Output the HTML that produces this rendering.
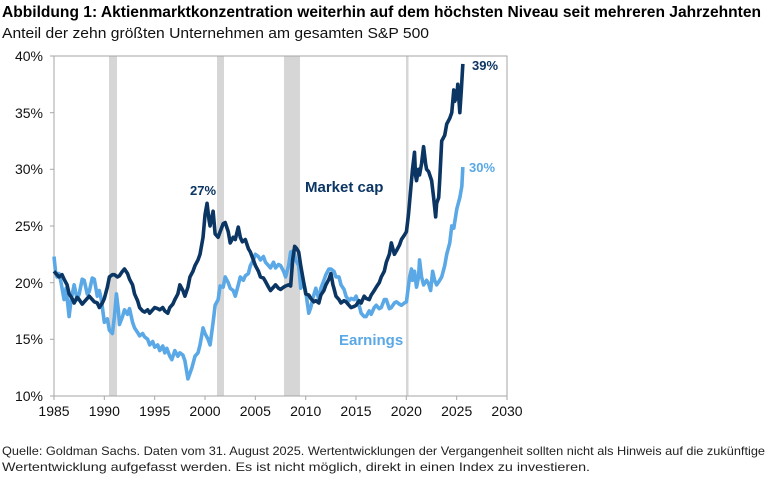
<!DOCTYPE html>
<html><head><meta charset="utf-8"><style>
html,body{margin:0;padding:0;background:#fff;}
svg{display:block;font-family:"Liberation Sans",Arial,sans-serif;}
</style></head><body>
<svg width="768" height="478" viewBox="0 0 768 478" xmlns="http://www.w3.org/2000/svg">
<text x="2" y="17" font-size="16" font-weight="bold" fill="#000" textLength="759" lengthAdjust="spacingAndGlyphs">Abbildung 1: Aktienmarktkonzentration weiterhin auf dem höchsten Niveau seit mehreren Jahrzehnten</text>
<text x="2" y="38" font-size="15" fill="#111" textLength="427" lengthAdjust="spacingAndGlyphs">Anteil der zehn größten Unternehmen am gesamten S&amp;P 500</text>
<g fill="#d6d6d6">
<rect x="109" y="56" width="8" height="340"/>
<rect x="217" y="56" width="7" height="340"/>
<rect x="284" y="56" width="16" height="340"/>
<rect x="406" y="56" width="2.5" height="340"/>
</g>
<rect x="54" y="56" width="453" height="340" fill="none" stroke="#a6a6a6" stroke-width="1"/>
<g stroke="#a6a6a6" stroke-width="1">
<line x1="50" y1="56" x2="54" y2="56"/><line x1="50" y1="112.7" x2="54" y2="112.7"/><line x1="50" y1="169.3" x2="54" y2="169.3"/><line x1="50" y1="226" x2="54" y2="226"/><line x1="50" y1="282.7" x2="54" y2="282.7"/><line x1="50" y1="339.3" x2="54" y2="339.3"/><line x1="50" y1="396" x2="54" y2="396"/>
<line x1="54" y1="396" x2="54" y2="400"/><line x1="104.3" y1="396" x2="104.3" y2="400"/><line x1="154.7" y1="396" x2="154.7" y2="400"/><line x1="205" y1="396" x2="205" y2="400"/><line x1="255.3" y1="396" x2="255.3" y2="400"/><line x1="305.7" y1="396" x2="305.7" y2="400"/><line x1="356" y1="396" x2="356" y2="400"/><line x1="406.3" y1="396" x2="406.3" y2="400"/><line x1="456.7" y1="396" x2="456.7" y2="400"/><line x1="507" y1="396" x2="507" y2="400"/>
</g>
<g font-size="14" fill="#111" text-anchor="end">
<text x="43" y="61">40%</text><text x="43" y="118">35%</text><text x="43" y="174">30%</text><text x="43" y="231">25%</text><text x="43" y="288">20%</text><text x="43" y="344">15%</text><text x="43" y="401">10%</text>
</g>
<g font-size="14" fill="#111" text-anchor="middle">
<text x="54" y="416">1985</text><text x="104.3" y="416">1990</text><text x="154.7" y="416">1995</text><text x="205" y="416">2000</text><text x="255.3" y="416">2005</text><text x="305.7" y="416">2010</text><text x="356" y="416">2015</text><text x="406.3" y="416">2020</text><text x="456.7" y="416">2025</text><text x="507" y="416">2030</text>
</g>
<g transform="translate(-19934.95,509.2) scale(10.07,-11.33)" fill="none" stroke-linejoin="round">
<polyline vector-effect="non-scaling-stroke" stroke="#5aa8e6" stroke-width="3.6" points="1985,22.3 1985.15,21 1985.3,20.5 1985.5,20.8 1985.7,20 1986,18.5 1986.2,19.5 1986.5,17 1986.7,18.5 1987,19.8 1987.3,18.5 1987.5,19 1987.8,20.3 1988,20.2 1988.3,19 1988.5,19.2 1988.8,20.4 1989,20.3 1989.3,18.8 1989.5,19.3 1989.7,18.5 1990,16.5 1990.3,16.8 1990.5,15.8 1990.8,15.5 1991,17 1991.2,19 1991.4,17.5 1991.5,16.3 1991.8,17 1992,17.6 1992.3,17.2 1992.5,17.7 1992.8,16.5 1993,16 1993.3,15.6 1993.5,15.3 1993.8,15.5 1994,15.2 1994.3,15 1994.5,14.5 1994.8,14.8 1995,14.3 1995.3,14.5 1995.5,14.0 1995.8,14.4 1996,13.8 1996.2,14.2 1996.5,13.5 1996.7,13.2 1997,14 1997.3,13.5 1997.5,13.8 1997.8,13.6 1998,13.1 1998.3,11.5 1998.5,12 1998.7,12.5 1999,13.5 1999.3,13.8 1999.5,14.5 1999.8,16 2000,15.5 2000.3,15 2000.5,14.5 2000.8,16.5 2001,18 2001.3,18.5 2001.5,19.7 2001.8,19.6 2002,20.5 2002.3,20 2002.5,19.5 2002.8,19.3 2003,18.8 2003.3,19.8 2003.5,20.5 2003.8,20.2 2004,20.6 2004.3,20.8 2004.5,21.5 2004.8,22 2005,22.5 2005.3,22.3 2005.5,22 2005.8,22.3 2006,21.8 2006.3,21.5 2006.5,21.3 2006.8,21.8 2007,21.3 2007.3,21.6 2007.5,21.5 2007.8,21 2008,20.5 2008.3,21.5 2008.5,22.7 2008.8,22.8 2009,22 2009.3,21.5 2009.5,19.5 2009.8,20 2010,19.2 2010.3,17.3 2010.5,17.8 2010.7,18.6 2011,19.5 2011.3,18.5 2011.5,19.5 2011.8,20.2 2012,20.7 2012.3,21.2 2012.5,21.2 2012.8,21 2013,20.5 2013.3,20.5 2013.5,19.8 2013.8,19.4 2014,18.8 2014.3,18.4 2014.5,18.6 2014.8,18.5 2015,18.8 2015.3,18 2015.5,17.3 2015.8,17 2016,17 2016.3,17.5 2016.5,17.2 2016.8,17.8 2017,18 2017.3,17.7 2017.5,17.8 2017.8,18.5 2018,18.5 2018.3,17.7 2018.5,17.8 2018.8,18.2 2019,18.3 2019.3,18.1 2019.5,18.0 2019.8,18.2 2020,18.3 2020.3,20.4 2020.5,21.2 2020.6,20.2 2020.8,21 2021,19.6 2021.2,20.5 2021.3,22 2021.5,20.5 2021.7,19.8 2022,20.2 2022.2,19.9 2022.4,19.3 2022.6,21 2022.8,20.2 2023,19.8 2023.3,20.2 2023.5,20.5 2023.8,21.5 2024,22.5 2024.3,23.5 2024.5,25 2024.7,24.8 2025,26.5 2025.3,27.5 2025.5,28.5 2025.6,30.2"/>
<polyline vector-effect="non-scaling-stroke" stroke="#0b3563" stroke-width="3.6" points="1985,21 1985.3,20.7 1985.5,20.5 1985.8,20.7 1986,20.3 1986.3,19.8 1986.5,19 1986.8,18.6 1987,18.2 1987.3,18.7 1987.5,18.5 1987.8,18.1 1988,18.3 1988.3,18.6 1988.5,18.8 1988.8,18.5 1989,18.3 1989.3,18.2 1989.5,17.8 1989.8,18.2 1990,18.6 1990.3,19.6 1990.5,20.5 1990.8,20.7 1991,20.7 1991.3,20.5 1991.5,20.6 1991.8,21 1992,21.2 1992.3,20.8 1992.5,20.3 1992.8,19.8 1993,19 1993.3,18.4 1993.5,17.8 1993.8,17.5 1994,17.4 1994.3,17.6 1994.5,17.3 1994.8,17.6 1995,17.8 1995.3,17.7 1995.5,17.6 1995.8,17.8 1996,17.5 1996.3,17.3 1996.5,17.8 1996.8,18.1 1997,18.5 1997.3,19 1997.5,19.8 1997.8,19.3 1998,18.8 1998.3,19.6 1998.5,20.5 1998.8,21 1999,21.5 1999.3,22 1999.5,22.5 1999.8,24 2000,26 2000.2,27 2000.4,25.5 2000.5,25 2000.8,26.3 2001,24.3 2001.3,24 2001.5,24.5 2001.8,25.2 2002,25.3 2002.3,24.5 2002.5,23.5 2002.8,24 2003,23.8 2003.3,24.9 2003.5,24 2003.7,23.6 2004,23.8 2004.3,23 2004.5,22.7 2004.8,22 2005,21.5 2005.3,21 2005.5,20.5 2005.8,20.4 2006,20.1 2006.3,19.6 2006.5,19.3 2006.8,19.6 2007,19.8 2007.3,19.5 2007.5,19.4 2007.8,19.6 2008,19.7 2008.3,19.8 2008.5,19.7 2008.7,22 2008.9,23.2 2009.1,23 2009.3,22.7 2009.5,21.5 2009.7,20.5 2010,19 2010.3,18.9 2010.5,18.6 2010.8,18.3 2011,18.4 2011.3,18.2 2011.5,18.9 2011.8,19.3 2012,19.8 2012.3,20.3 2012.5,20.8 2012.7,19.8 2012.8,19.5 2013,18.8 2013.3,18.5 2013.5,18.2 2013.8,18.4 2014,18.3 2014.3,18 2014.5,17.8 2014.8,17.9 2015,18 2015.3,18.4 2015.5,18.2 2015.8,18.8 2016,18.6 2016.3,18.5 2016.5,18.9 2016.8,19.3 2017,19.6 2017.3,20 2017.5,20.5 2017.8,21 2018,21.8 2018.3,22.5 2018.5,23.5 2018.8,22.5 2019,22.8 2019.3,23.3 2019.5,23.8 2019.8,24.2 2020,24.5 2020.2,26 2020.3,27 2020.5,29 2020.6,30 2020.8,31.5 2020.9,29.5 2021,29 2021.2,30 2021.3,29.5 2021.5,30.5 2021.7,32 2021.9,30.5 2022,30 2022.2,29.8 2022.5,29 2022.7,27.5 2022.9,25.8 2023,27 2023.2,27.5 2023.3,29 2023.5,32.5 2023.8,33 2024,34 2024.3,34.5 2024.5,35 2024.7,37 2024.8,36 2025,36.5 2025.1,37.5 2025.3,35 2025.45,37 2025.6,39.3"/>
</g>
<g font-weight="bold">
<text x="190" y="195" font-size="13" fill="#0b3563">27%</text>
<text x="305" y="192" font-size="15" fill="#0b3563">Market cap</text>
<text x="472" y="70" font-size="13" fill="#0b3563">39%</text>
<text x="469" y="172" font-size="13" fill="#5aa8e6">30%</text>
<text x="339" y="345" font-size="15" fill="#5aa8e6">Earnings</text>
</g>
<text x="2" y="455" font-size="12" fill="#222" textLength="763" lengthAdjust="spacingAndGlyphs">Quelle: Goldman Sachs. Daten vom 31. August 2025. Wertentwicklungen der Vergangenheit sollten nicht als Hinweis auf die zukünftige</text>
<text x="2" y="471" font-size="12" fill="#222" textLength="588" lengthAdjust="spacingAndGlyphs">Wertentwicklung aufgefasst werden. Es ist nicht möglich, direkt in einen Index zu investieren.</text>
</svg>
</body></html>
